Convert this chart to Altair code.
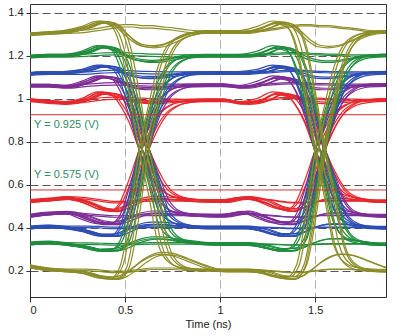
import altair as alt
import pandas as pd

# ---------------- data ----------------
T_CROSS = [0.593, 1.525]                     # eye crossing times (ns)
OFFS = [-0.40, -0.30, -0.22, -0.15, -0.10, -0.05, 0.0, 0.05, 0.10, 0.16, 0.24, 0.33, 0.42]
PRE_T = [0.0, 0.1]

OLIVE_FALL = [1.31, 1.33, 1.355, 1.335, 1.24, 1.01, 0.755, 0.55, 0.32, 0.23, 0.205, 0.20, 0.20]
OLIVE_RISE = [0.20, 0.19, 0.17, 0.165, 0.22, 0.45, 0.755, 0.97, 1.15, 1.26, 1.30, 1.31, 1.31]
OLIVE_HI_BUMP = [1.31, 1.33, 1.355, 1.345, 1.31, 1.27, 1.245, 1.24, 1.245, 1.265, 1.295, 1.31, 1.31]
OLIVE_HI_FLAT = [1.31, 1.315, 1.325, 1.335, 1.34, 1.34, 1.335, 1.335, 1.33, 1.325, 1.315, 1.31, 1.31]
OLIVE_LO_DIP = [0.20, 0.19, 0.17, 0.165, 0.18, 0.21, 0.245, 0.27, 0.28, 0.275, 0.25, 0.22, 0.20]
OLIVE_LO_FLAT = [0.20, 0.20, 0.195, 0.19, 0.19, 0.195, 0.20, 0.205, 0.205, 0.205, 0.20, 0.20, 0.20]
OLIVE_PRE_HI = [1.30, 1.305]
OLIVE_PRE_LO = [0.22, 0.205]

GREEN_FALL = [1.20, 1.215, 1.24, 1.225, 1.14, 0.96, 0.76, 0.60, 0.42, 0.35, 0.33, 0.323, 0.323]
GREEN_RISE = [0.323, 0.31, 0.295, 0.297, 0.34, 0.52, 0.76, 0.94, 1.08, 1.165, 1.195, 1.20, 1.20]
GREEN_HI_BUMP = [1.20, 1.215, 1.24, 1.23, 1.205, 1.185, 1.175, 1.172, 1.175, 1.185, 1.197, 1.20, 1.20]
GREEN_HI_FLAT = [1.20, 1.203, 1.208, 1.21, 1.21, 1.207, 1.205, 1.203, 1.202, 1.20, 1.20, 1.20, 1.20]
GREEN_LO_DIP = [0.323, 0.31, 0.295, 0.297, 0.31, 0.33, 0.345, 0.352, 0.352, 0.345, 0.335, 0.326, 0.323]
GREEN_LO_FLAT = [0.323, 0.322, 0.32, 0.318, 0.318, 0.32, 0.322, 0.323, 0.323, 0.323, 0.323, 0.323, 0.323]
GREEN_PRE_HI = [1.195, 1.20]
GREEN_PRE_LO = [0.325, 0.33]

BLUE_FALL = [1.12, 1.13, 1.15, 1.14, 1.075, 0.94, 0.76, 0.62, 0.48, 0.425, 0.405, 0.40, 0.40]
BLUE_RISE = [0.40, 0.385, 0.365, 0.365, 0.41, 0.56, 0.76, 0.92, 1.03, 1.09, 1.115, 1.12, 1.12]
BLUE_HI_BUMP = [1.12, 1.13, 1.15, 1.14, 1.12, 1.105, 1.098, 1.097, 1.10, 1.108, 1.117, 1.12, 1.12]
BLUE_HI_FLAT = [1.12, 1.12, 1.125, 1.128, 1.128, 1.125, 1.123, 1.122, 1.121, 1.12, 1.12, 1.12, 1.12]
BLUE_LO_DIP = [0.40, 0.385, 0.365, 0.365, 0.38, 0.40, 0.415, 0.42, 0.42, 0.415, 0.407, 0.40, 0.40]
BLUE_LO_FLAT = [0.40, 0.40, 0.398, 0.395, 0.395, 0.397, 0.40, 0.40, 0.40, 0.40, 0.40, 0.40, 0.40]
BLUE_PRE_HI = [1.115, 1.12]
BLUE_PRE_LO = [0.40, 0.405]

PURPLE_FALL = [1.055, 1.075, 1.10, 1.09, 1.03, 0.91, 0.76, 0.64, 0.53, 0.475, 0.46, 0.455, 0.455]
PURPLE_RISE = [0.47, 0.44, 0.42, 0.42, 0.46, 0.59, 0.76, 0.90, 0.99, 1.04, 1.06, 1.063, 1.063]
PURPLE_HI_BUMP = [1.055, 1.075, 1.10, 1.09, 1.07, 1.053, 1.046, 1.045, 1.048, 1.055, 1.061, 1.063, 1.063]
PURPLE_HI_FLAT = [1.055, 1.063, 1.068, 1.07, 1.07, 1.068, 1.066, 1.065, 1.064, 1.063, 1.063, 1.063, 1.063]
PURPLE_LO_DIP = [0.47, 0.455, 0.43, 0.42, 0.432, 0.45, 0.465, 0.472, 0.472, 0.467, 0.46, 0.456, 0.455]
PURPLE_LO_FLAT = [0.465, 0.458, 0.452, 0.448, 0.448, 0.451, 0.455, 0.456, 0.456, 0.455, 0.455, 0.455, 0.455]
PURPLE_PRE_HI = [1.06, 1.06]
PURPLE_PRE_LO = [0.455, 0.465]

RED_FALL = [0.98, 0.995, 1.025, 1.015, 0.965, 0.88, 0.76, 0.66, 0.585, 0.545, 0.53, 0.523, 0.523]
RED_RISE = [0.537, 0.52, 0.49, 0.48, 0.52, 0.63, 0.76, 0.86, 0.93, 0.97, 0.988, 0.993, 0.993]
RED_HI_BUMP = [0.98, 0.995, 1.025, 1.015, 1.0, 0.987, 0.982, 0.98, 0.982, 0.987, 0.991, 0.993, 0.993]
RED_HI_FLAT = [0.98, 0.99, 1.0, 1.003, 1.003, 1.0, 0.998, 0.996, 0.995, 0.994, 0.993, 0.993, 0.993]
RED_LO_DIP = [0.537, 0.52, 0.49, 0.48, 0.495, 0.515, 0.532, 0.54, 0.54, 0.535, 0.528, 0.524, 0.523]
RED_LO_FLAT = [0.537, 0.532, 0.522, 0.515, 0.515, 0.518, 0.522, 0.523, 0.523, 0.523, 0.523, 0.523, 0.523]
RED_PRE_HI = [0.993, 0.985]
RED_PRE_LO = [0.523, 0.53]

# trace patterns: bit pattern around first and second crossing
SEQ_FIRST = ["hi_flat", "hi_bump", "hi_bump", "fall", "fall", "fall", "rise", "rise", "rise",
             "lo_dip", "lo_dip", "lo_flat", "hi_flat", "lo_flat",
             "fall", "rise", "hi_bump", "lo_dip"]
SEQ_SECOND = ["hi_flat", "hi_bump", "fall", "rise", "lo_dip", "lo_flat", "fall", "hi_bump", "hi_flat",
              "rise", "lo_dip", "lo_flat", "fall", "rise",
              "rise", "fall", "fall", "rise"]
SHIFT_FIRST = [0.0, 0.01, -0.01, -0.02, 0.0, 0.02, 0.015, -0.005, 0.03, 0.0, -0.01, 0.0, 0.0, 0.0,
               0.035, -0.02, 0.0, 0.02]
SHIFT_SECOND = [0.0, -0.01, 0.0, 0.015, 0.01, 0.0, -0.02, 0.0, 0.0, -0.01, 0.01, 0.0, 0.025, 0.03,
                -0.025, 0.03, -0.03, 0.02]
LEVEL_OFFSET = [0.004, -0.004, 0.0, 0.006, -0.003, 0.002, -0.006, 0.003, -0.002, 0.005, -0.005, 0.0,
                -0.007, 0.007, 0.002, -0.002, 0.006, -0.006]

REF_LEVELS = [0.925, 0.575]
REF_LABELS = ["Y = 0.925 (V)", "Y = 0.575 (V)"]
X_TICKS = [0, 0.5, 1, 1.5]
Y_TICKS = [0.2, 0.4, 0.6, 0.8, 1.0, 1.2, 1.4]

COLOR_ORDER = ["red", "purple", "blue", "green", "olive"]
HEX = {"olive": "#8c8c28", "green": "#1e8c3c", "blue": "#2d4db4",
       "purple": "#7d2d96", "red": "#e6282d"}

SEGMENTS = {
    "olive": dict(fall=OLIVE_FALL, rise=OLIVE_RISE, hi_bump=OLIVE_HI_BUMP, hi_flat=OLIVE_HI_FLAT,
                  lo_dip=OLIVE_LO_DIP, lo_flat=OLIVE_LO_FLAT, pre_hi=OLIVE_PRE_HI, pre_lo=OLIVE_PRE_LO),
    "green": dict(fall=GREEN_FALL, rise=GREEN_RISE, hi_bump=GREEN_HI_BUMP, hi_flat=GREEN_HI_FLAT,
                  lo_dip=GREEN_LO_DIP, lo_flat=GREEN_LO_FLAT, pre_hi=GREEN_PRE_HI, pre_lo=GREEN_PRE_LO),
    "blue": dict(fall=BLUE_FALL, rise=BLUE_RISE, hi_bump=BLUE_HI_BUMP, hi_flat=BLUE_HI_FLAT,
                 lo_dip=BLUE_LO_DIP, lo_flat=BLUE_LO_FLAT, pre_hi=BLUE_PRE_HI, pre_lo=BLUE_PRE_LO),
    "purple": dict(fall=PURPLE_FALL, rise=PURPLE_RISE, hi_bump=PURPLE_HI_BUMP, hi_flat=PURPLE_HI_FLAT,
                   lo_dip=PURPLE_LO_DIP, lo_flat=PURPLE_LO_FLAT, pre_hi=PURPLE_PRE_HI, pre_lo=PURPLE_PRE_LO),
    "red": dict(fall=RED_FALL, rise=RED_RISE, hi_bump=RED_HI_BUMP, hi_flat=RED_HI_FLAT,
                lo_dip=RED_LO_DIP, lo_flat=RED_LO_FLAT, pre_hi=RED_PRE_HI, pre_lo=RED_PRE_LO),
}
HIGH_START = {"fall", "hi_bump", "hi_flat"}

rows = []
for cname in COLOR_ORDER:
    segs = SEGMENTS[cname]
    for k in range(len(SEQ_FIRST)):
        s1, s2 = SEQ_FIRST[k], SEQ_SECOND[k]
        dv = LEVEL_OFFSET[k]
        pre = segs["pre_hi"] if s1 in HIGH_START else segs["pre_lo"]
        pts = list(zip(PRE_T, pre))
        for tc, seg, sh in ((T_CROSS[0], s1, SHIFT_FIRST[k]), (T_CROSS[1], s2, SHIFT_SECOND[k])):
            for o, v in zip(OFFS, segs[seg]):
                pts.append((tc + o + sh, v))
        for i, (t, v) in enumerate(pts):
            rows.append({"trace": f"{cname}_{k:02d}", "color": cname, "t": t, "v": v + dv, "i": i})
df = pd.DataFrame(rows)

FONT = "Liberation Sans"
x_enc = alt.X("t:Q", scale=alt.Scale(domain=[0, 1.872], nice=False, zero=False),
              axis=alt.Axis(values=X_TICKS, format="~g", title="Time (ns)", grid=True,
                            gridColor="#b0b0b0", gridDash=[8, 4], tickSize=5, labelPadding=2,
                            titlePadding=3))
y_enc = alt.Y("v:Q", scale=alt.Scale(domain=[0.077, 1.44], nice=False, zero=False),
              axis=alt.Axis(values=Y_TICKS, format="~g", title=None, grid=True,
                            gridColor="#555555", gridDash=[8, 4], tickSize=4, labelPadding=3))

layers = []
for cname in COLOR_ORDER:
    layers.append(
        alt.Chart(df[df["color"] == cname]).mark_line(
            color=HEX[cname], strokeWidth=1.2, interpolate="monotone", clip=True
        ).encode(x=x_enc, y=y_enc, detail="trace:N", order="i:Q")
    )

ref_df = pd.DataFrame({"v": REF_LEVELS})
rules = alt.Chart(ref_df).mark_rule(color="#d03030", strokeWidth=1).encode(y="v:Q")

lab1 = alt.Chart(pd.DataFrame({"label": [REF_LABELS[0]]})).mark_text(
    align="left", baseline="middle", dx=4, dy=10, font=FONT, fontSize=11, color="#2f8a6a"
).encode(x=alt.datum(0), y=alt.datum(REF_LEVELS[0]), text="label:N")
lab2 = alt.Chart(pd.DataFrame({"label": [REF_LABELS[1]]})).mark_text(
    align="left", baseline="middle", dx=4, dy=-15, font=FONT, fontSize=11, color="#2f8a6a"
).encode(x=alt.datum(0), y=alt.datum(REF_LEVELS[1]), text="label:N")

chart = alt.layer(*layers, rules, lab1, lab2).properties(
    width=356, height=293,
    padding={"left": 30, "top": 4, "right": 11, "bottom": 39},
    autosize=alt.AutoSizeParams(type="none"),
).configure_view(stroke="#333333", strokeWidth=1).configure_axis(
    domainColor="#333333", tickColor="#333333", labelColor="#222222", titleColor="#222222",
    labelFont=FONT, titleFont=FONT, labelFontSize=11, titleFontSize=11, titleFontWeight="normal"
)

chart.save("out.html", embed_options={"renderer": "svg", "actions": False})
